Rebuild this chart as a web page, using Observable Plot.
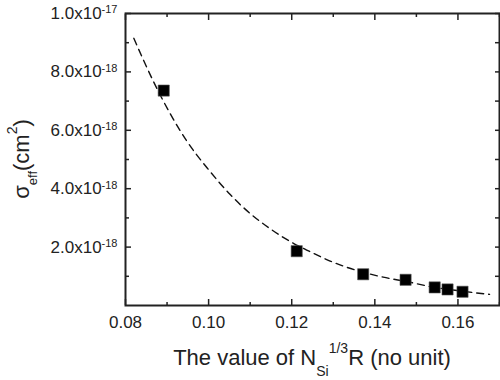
<!DOCTYPE html>
<html><head><meta charset="utf-8">
<script src="https://cdn.jsdelivr.net/npm/d3@7"></script>
<script src="https://cdn.jsdelivr.net/npm/@observablehq/plot@0.6"></script>
<style>body{margin:0;background:#fff} svg{font-family:"Liberation Sans",Arial,Helvetica,sans-serif}</style>
</head><body><div id="chart"></div>
<script>
// measured points
const pointX = [0.0892, 0.1212, 0.1372, 0.1474, 0.1544, 0.1575, 0.1611];
const pointY = [7.36e-18, 1.86e-18, 1.07e-18, 0.88e-18, 0.62e-18, 0.55e-18, 0.47e-18];
// dashed fit curve
const fitX = [0.082, 0.0868, 0.0948, 0.100, 0.1052, 0.110, 0.1148, 0.1204, 0.1236, 0.130, 0.142, 0.148, 0.154, 0.161, 0.1676];
const fitY = [9.15e-18, 7.65e-18, 5.62e-18, 4.65e-18, 3.80e-18, 3.15e-18, 2.63e-18, 2.13e-18, 1.90e-18, 1.48e-18, 0.97e-18, 0.81e-18, 0.63e-18, 0.49e-18, 0.38e-18];
// ticks
const xMajorTicks = [0.08, 0.10, 0.12, 0.14, 0.16];
const xTickLabels = ["0.08", "0.10", "0.12", "0.14", "0.16"];
const xMinorTicks = [0.09, 0.11, 0.13, 0.15, 0.17];
const yMajorTicks = [2e-18, 4e-18, 6e-18, 8e-18, 1e-17];
const yTickMantissa = ["2.0x10", "4.0x10", "6.0x10", "8.0x10", "1.0x10"];
const yTickExponent = ["-18", "-18", "-18", "-18", "-17"];
const yMinorTicks = [1e-18, 3e-18, 5e-18, 7e-18, 9e-18];
// labels
const xLabelParts = ["The value of N", "Si", "1/3", "R (no unit)"];
const yLabelParts = ["σ", "eff", "(cm", "2", ")"];

const points = pointX.map((x, i) => ({x, y: pointY[i]}));
const fit = fitX.map((x, i) => ({x, y: fitY[i]}));
const ink = "#222";

const plot = Plot.plot({
  width: 500, height: 380,
  marginLeft: 125, marginRight: 1, marginTop: 13, marginBottom: 75,
  x: {domain: [0.08, 0.17]},
  y: {domain: [0, 1e-17]},
  style: {fontFamily: '"Liberation Sans", Arial, Helvetica, sans-serif', fontSize: "17px", color: ink, background: "#fff"},
  marks: [
    Plot.line(fit, {x: "x", y: "y", curve: "monotone-x", stroke: "#111", strokeWidth: 1.4, strokeDasharray: "7,5"}),
    Plot.dot(points, {x: "x", y: "y", symbol: "square", r: 6.3, fill: "#000", stroke: "#555", strokeWidth: 0.6}),
    Plot.axisX(xMajorTicks, {anchor: "bottom", tickSize: 0, tickPadding: 10, fontSize: 17, label: null,
      tickFormat: d => xTickLabels[xMajorTicks.indexOf(d)]}),
    Plot.axisX(xMajorTicks, {anchor: "bottom", tickSize: -6, tickFormat: () => "", label: null, strokeWidth: 1.5}),
    Plot.axisX(xMinorTicks, {anchor: "bottom", tickSize: -3, tickFormat: () => "", label: null, strokeWidth: 1.5}),
    Plot.axisX(xMajorTicks, {anchor: "top", tickSize: -6, tickFormat: () => "", label: null, strokeWidth: 1.5}),
    Plot.axisX(xMinorTicks, {anchor: "top", tickSize: -3, tickFormat: () => "", label: null, strokeWidth: 1.5}),
    Plot.axisY(yMajorTicks, {anchor: "left", tickSize: 0, tickPadding: 8, fontSize: 17, label: null,
      tickFormat: d => { const i = yMajorTicks.indexOf(d); return yTickMantissa[i] + "^" + yTickExponent[i]; }}),
    Plot.axisY(yMajorTicks, {anchor: "left", tickSize: -6, tickFormat: () => "", label: null, strokeWidth: 1.5}),
    Plot.axisY(yMinorTicks, {anchor: "left", tickSize: -4, tickFormat: () => "", label: null, strokeWidth: 1.5}),
    Plot.axisY(yMajorTicks, {anchor: "right", tickSize: -5, tickFormat: () => "", label: null, strokeWidth: 1.5}),
    Plot.axisY(yMinorTicks, {anchor: "right", tickSize: -5, tickFormat: () => "", label: null, strokeWidth: 1.5}),
    Plot.frame({stroke: ink, strokeWidth: 2})
  ]
});
document.getElementById("chart").appendChild(plot);

const svg = d3.select(plot);
svg.selectAll("text").each(function() {
  const t = d3.select(this);
  const s = t.text();
  if (!s.includes("^")) return;
  const [m, e] = s.split("^");
  t.text(null);
  t.append("tspan").text(m);
  t.append("tspan").attr("dy", "-0.5em").attr("font-size", "11px").text(e);
});

const xs = plot.scale("x").range, ys = plot.scale("y").range;
const cx = (xs[0] + xs[1]) / 2, cy = (ys[0] + ys[1]) / 2;

const xl = svg.append("text").attr("x", cx).attr("y", 365).attr("text-anchor", "middle")
  .attr("font-size", 22).attr("fill", ink);
xl.append("tspan").text(xLabelParts[0]);
xl.append("tspan").attr("dy", 11).attr("font-size", 14).text(xLabelParts[1]);
xl.append("tspan").attr("dy", -23).attr("font-size", 14).text(xLabelParts[2]);
xl.append("tspan").attr("dy", 12).text(xLabelParts[3]);

const yl = svg.append("text").attr("transform", `translate(29,${cy}) rotate(-90)`).attr("text-anchor", "middle")
  .attr("font-size", 22).attr("fill", ink);
yl.append("tspan").text(yLabelParts[0]);
yl.append("tspan").attr("dy", 8).attr("font-size", 13).text(yLabelParts[1]);
yl.append("tspan").attr("dy", -8).text(yLabelParts[2]);
yl.append("tspan").attr("dy", -12).attr("font-size", 14).text(yLabelParts[3]);
yl.append("tspan").attr("dy", 12).text(yLabelParts[4]);
</script>
</body></html>
